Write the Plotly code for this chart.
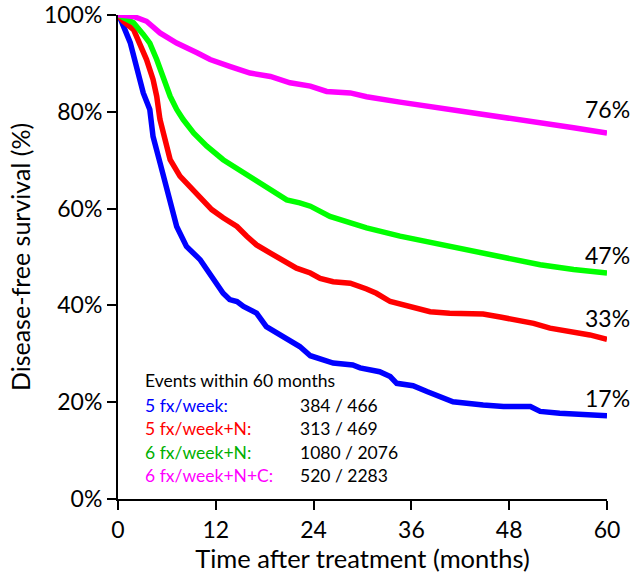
import plotly.graph_objects as go

# ---- data (months, % disease-free survival) ----
blue_x = [0, 0.25, 1.5, 2.3, 3.1, 3.9, 4.3, 5.15, 6.0, 6.6, 7.2, 8.4, 10.1, 10.9, 11.7, 12.9, 13.7, 14.6,
          15.4, 17.0, 18.2, 19.5, 21.1, 22.3, 23.6, 25.1, 26.4, 28.8, 29.7, 32.1, 33.4, 34.2, 36.2, 37.9,
          39.5, 41.1, 44.8, 47.3, 50.6, 51.8, 54.2, 56.7, 60]
blue_y = [100, 99.4, 94.3, 89.4, 83.9, 80.5, 74.9, 69.5, 63.9, 60.5, 56.3, 52.2, 49.4, 47.4, 45.3, 42.5, 41.2, 40.8,
          39.8, 38.4, 35.6, 34.3, 32.9, 31.5, 29.6, 28.7, 28.1, 27.7, 27.1, 26.3, 25.3, 23.9, 23.4, 22.2,
          21.2, 20.1, 19.4, 19.1, 19.1, 18.1, 17.7, 17.4, 17.2]

red_x = [0, 0.65, 1.9, 2.7, 3.5, 4.3, 4.75, 5.15, 5.8, 6.4, 7.6, 8.8, 9.7, 10.5, 11.5, 12.9, 14.6, 15.8,
         17.0, 18.7, 20.3, 21.9, 23.6, 24.8, 26.4, 28.5, 30.5, 31.7, 33.4, 35.8, 38.3, 40.7, 44.8, 46.9,
         47.7, 51.0, 53.0, 55.9, 57.9, 60]
red_y = [100, 98.7, 97.0, 94.2, 90.8, 86.7, 83.2, 78.4, 73.6, 70.1, 66.7, 64.6, 63.2, 61.4, 59.8, 58.1, 56.3, 54.3,
         52.5, 50.8, 49.1, 47.7, 46.7, 45.6, 44.9, 44.6, 43.4, 42.5, 40.8, 39.8, 38.7, 38.4, 38.2, 37.6,
         37.4, 36.3, 35.3, 34.6, 33.9, 33.0]

green_x = [0, 0.65, 1.9, 3.1, 3.9, 4.75, 5.6, 6.4, 7.2, 8.0, 9.3, 10.9, 12.9, 15.4, 17.9, 20.7, 22.3, 23.6,
           26.0, 30.5, 34.6, 38.7, 42.8, 46.9, 51.8, 55.9, 60]
green_y = [100, 99.4, 98.4, 96.0, 94.2, 90.8, 86.7, 83.2, 80.5, 78.4, 75.6, 72.9, 70.1, 67.4, 64.6, 61.8, 61.2, 60.5,
           58.4, 56.0, 54.3, 52.9, 51.4, 50.0, 48.4, 47.4, 46.7]

pink_x = [0, 0.25, 1.9, 3.5, 5.15, 7.2, 9.7, 11.3, 13.7, 16.2, 18.7, 21.1, 23.6, 25.6, 28.5, 30.5, 34.6,
          38.7, 42.8, 46.9, 51.8, 55.9, 60]
pink_y = [100, 100, 99.7, 98.7, 96.3, 94.2, 92.2, 90.8, 89.4, 88.0, 87.3, 86.0, 85.3, 84.2, 83.9, 83.1, 82.0,
          81.0, 80.1, 79.1, 77.7, 76.7, 75.6]

series_names = ["5 fx/week:", "5 fx/week+N:", "6 fx/week+N:", "6 fx/week+N+C:"]
events = ["384 / 466", "313 / 469", "1080 / 2076", "520 / 2283"]
end_labels = ["17%", "33%", "47%", "76%"]
x_ticks = [0, 12, 24, 36, 48, 60]
y_ticks = [0, 20, 40, 60, 80, 100]

line_colors = ["#0000FF", "#FF0000", "#00FF00", "#FF00FF"]
text_colors = ["#0000FF", "#FF0000", "#00B000", "#FF00FF"]
FONT = "Lato, Calibri, Carlito, sans-serif"

fig = go.Figure()
xs = [blue_x, red_x, green_x, pink_x]
ys = [blue_y, red_y, green_y, pink_y]
for x, y, c, n in zip(xs, ys, line_colors, series_names):
    fig.add_trace(go.Scatter(x=x, y=y, mode="lines", line=dict(color=c, width=5.5),
                             name=n, showlegend=False, cliponaxis=False))

# end labels
label_y = [20.9, 37.4, 50.5, 80.5]
for lab, ly in zip(end_labels, label_y):
    fig.add_annotation(x=60, y=ly, text=lab, showarrow=False, xanchor="center", yanchor="middle",
                       font=dict(family=FONT, size=23, color="black"))

# events box
fig.add_annotation(x=3.05, y=24.4, text="Events within 60 months", showarrow=False,
                   xanchor="left", yanchor="middle", font=dict(family=FONT, size=17.5, color="black"))
row_y = [19.4, 14.6, 9.7, 4.9]
for n, e, c, ry in zip(series_names, events, text_colors, row_y):
    fig.add_annotation(x=3.05, y=ry, text=n, showarrow=False, xanchor="left", yanchor="middle",
                       font=dict(family=FONT, size=17.5, color=c))
    fig.add_annotation(x=22.1, y=ry, text=e, showarrow=False, xanchor="left", yanchor="middle",
                       font=dict(family=FONT, size=17.5, color="black"))

fig.update_layout(
    width=636, height=584,
    margin=dict(l=118, r=29, t=15, b=85, autoexpand=False),
    plot_bgcolor="white", paper_bgcolor="white",
    font=dict(family=FONT, size=23, color="black"),
)
fig.update_xaxes(range=[0, 60], tickvals=x_ticks, ticktext=[str(v) for v in x_ticks],
                 showgrid=False, zeroline=False, showline=True, linecolor="black", linewidth=2,
                 ticks="outside", ticklen=9, tickwidth=2, tickcolor="black", automargin=False,
                 tickfont=dict(family=FONT, size=23),
                 title=dict(text="Time after treatment (months)", font=dict(family=FONT, size=25.5), standoff=6))
fig.update_yaxes(range=[0, 100], tickvals=y_ticks, ticktext=[f"{v}%" for v in y_ticks],
                 showgrid=False, zeroline=False, showline=True, linecolor="black", linewidth=2,
                 ticks="outside", ticklen=9, tickwidth=2, tickcolor="black", automargin=False,
                 tickfont=dict(family=FONT, size=23),
                 title=dict(text="Disease-free survival (%)", font=dict(family=FONT, size=25), standoff=6))

fig.write_html("out.html", config={"displayModeBar": False},
               post_script="document.body.style.margin='0';")
